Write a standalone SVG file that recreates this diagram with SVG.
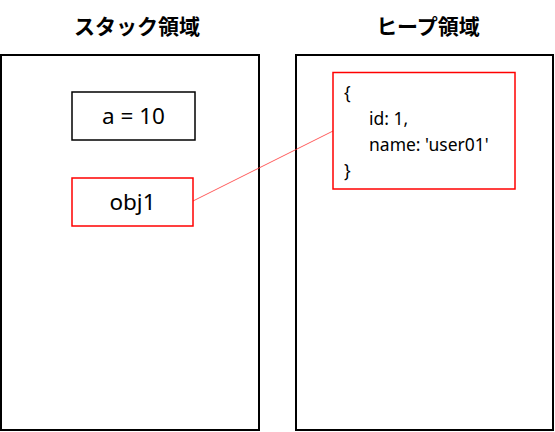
<svg xmlns="http://www.w3.org/2000/svg" width="555" height="432" viewBox="0 0 555 432">
<style>
.area{fill:#fff;stroke:#000;stroke-width:2}
.title{font-family:"Noto Sans CJK JP","Noto Sans",sans-serif;font-weight:bold;font-size:21px;fill:#000;text-anchor:middle}
.lbl{font-family:"Noto Sans","Liberation Sans",sans-serif;font-size:22.5px;fill:#000;text-anchor:middle}
.code{font-family:"Noto Sans","Liberation Sans",sans-serif;font-size:17.5px;fill:#000}
.blk{fill:#fff;stroke:#000;stroke-width:1.5}
.red{fill:#fff;stroke:#f00;stroke-width:1.5}
.conn{stroke:#f33;stroke-width:0.8;fill:none}
</style>
<rect width="555" height="432" fill="#fff"/>
<g id="stack-area">
<text class="title" x="137" y="34">スタック領域</text>
<rect class="area" x="1" y="55" width="258" height="375"/>
</g>
<g id="heap-area">
<text class="title" x="428" y="34">ヒープ領域</text>
<rect class="area" x="296" y="55" width="257" height="375"/>
</g>
<g id="connectors">
<line class="conn" x1="193" y1="201" x2="333" y2="131"/>
</g>
<g id="var-a">
<rect class="blk" x="72" y="92" width="123" height="48"/>
<text class="lbl" x="133.5" y="124">a = 10</text>
</g>
<g id="var-obj1">
<rect class="red" x="72" y="178" width="121" height="48"/>
<text class="lbl" x="132.5" y="210">obj1</text>
</g>
<g id="heap-object">
<rect class="red" x="333" y="72.5" width="182" height="116.5"/>
<text class="code" x="344" y="99">{</text>
<text class="code" x="369" y="125">id: 1,</text>
<text class="code" x="369" y="151">name: 'user01'</text>
<text class="code" x="344" y="177">}</text>
</g>
</svg>
